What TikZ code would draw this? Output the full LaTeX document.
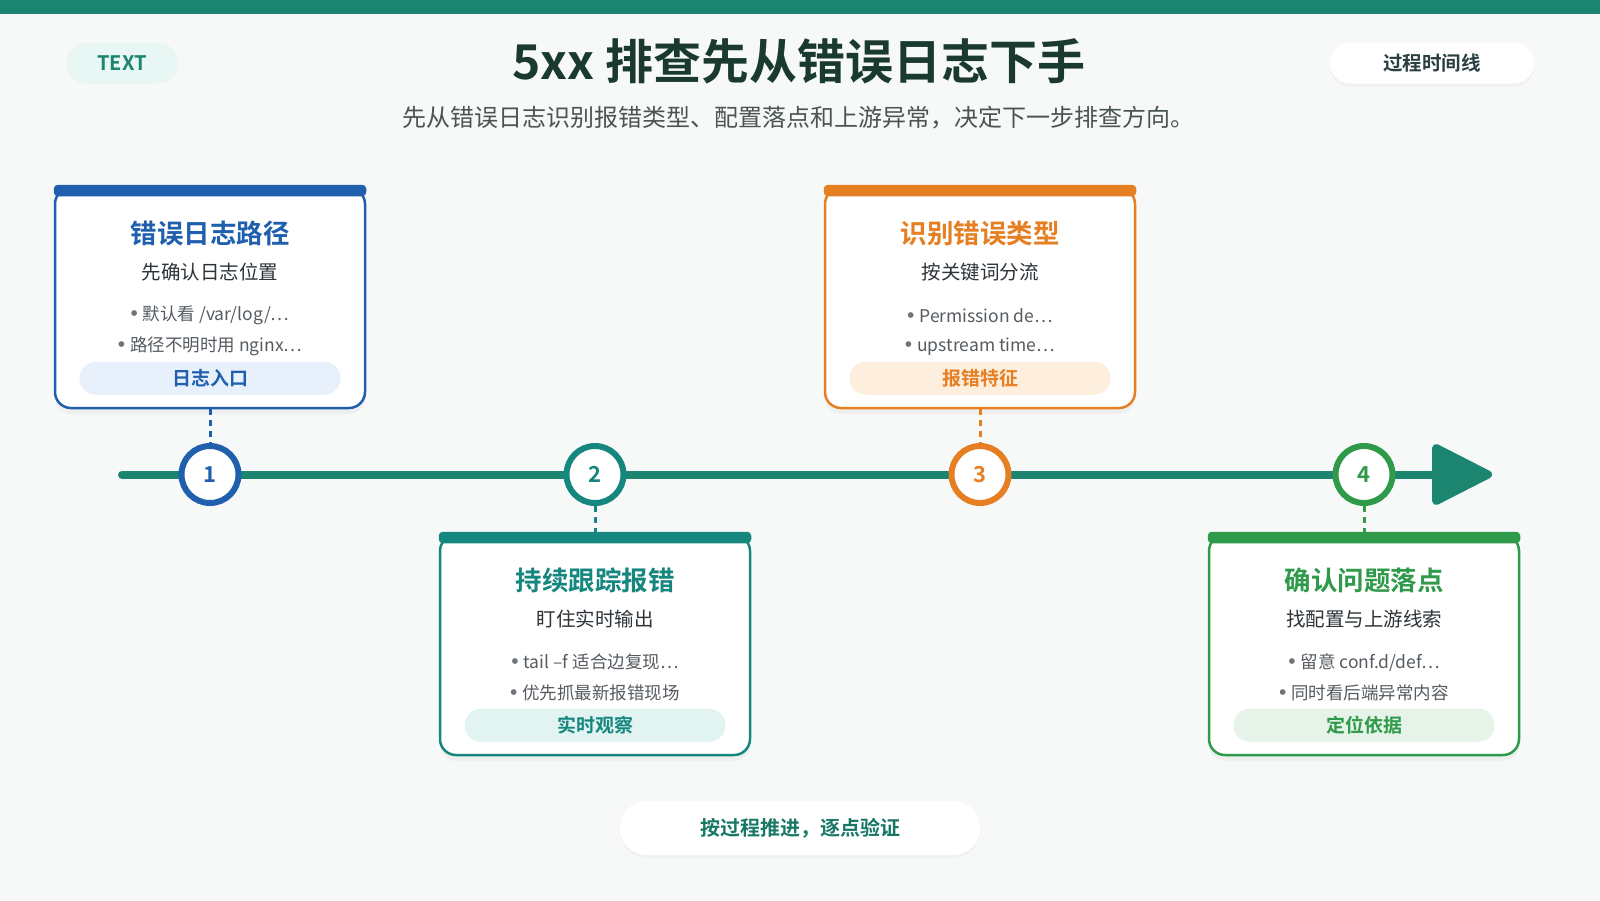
\documentclass[tikz,border=0pt]{standalone}
\usepackage{fontspec}
\setmainfont{Noto Sans CJK SC}[BoldFont={Noto Sans CJK SC Bold}]
\newfontfamily\bulfont{Liberation Sans}
\usetikzlibrary{arrows.meta,shadows}
\newcommand\fsz[1]{\fontsize{#1pt}{#1pt}\selectfont}
\newcommand\bul{{\bulfont\fsz{21}\color{bullettext!85!white}•}\hspace{5pt}}
\definecolor{bgc}{HTML}{F6F9F8}
\definecolor{topc}{HTML}{1B8570}
\definecolor{titlec}{HTML}{1B3A2E}
\definecolor{subc}{HTML}{4A5550}
\definecolor{cblue}{HTML}{1F5FAE}
\definecolor{pblue}{HTML}{E7F0FB}
\definecolor{cteal}{HTML}{16877F}
\definecolor{pteal}{HTML}{E2F4F1}
\definecolor{corange}{HTML}{E67E22}
\definecolor{porange}{HTML}{FDEEDD}
\definecolor{cgreen}{HTML}{2F9A4A}
\definecolor{pgreen}{HTML}{E5F3E8}
\definecolor{darktext}{HTML}{2D3338}
\definecolor{bullettext}{HTML}{555B60}
\tikzset{
  card/.style={rectangle, rounded corners=16pt, minimum width=310pt, minimum height=220pt,
    fill=white, draw=#1, line width=2.5pt, inner sep=0pt,
    drop shadow={opacity=0.07, shadow xshift=0pt, shadow yshift=-6pt}},
  ringnode/.style={circle, minimum size=57pt, line width=6pt, fill=white, draw=#1,
    text=#1, inner sep=0pt, font=\fsz{22}\bfseries},
  cardtitle/.style={inner sep=0pt, text=#1, font=\fsz{26.5}\bfseries},
  cardsub/.style={inner sep=0pt, text=darktext, font=\fsz{19.5}},
  bullet/.style={inner sep=0pt, text=bullettext, font=\fsz{17.5}},
  tagpill/.style={rectangle, rounded corners=16.5pt, minimum width=261pt, minimum height=33pt,
    inner sep=0pt, fill=#1},
  tagtext/.style={text=#1, font=\fsz{19}\bfseries},
  dashc/.style={draw=#1, line width=3pt, dash pattern=on 6pt off 5pt},
  softpill/.style={rectangle, rounded corners=20pt, fill=white, inner sep=0pt,
    drop shadow={opacity=0.05, shadow xshift=0pt, shadow yshift=-3pt}}
}
\begin{document}
\begin{tikzpicture}[x=1pt,y=-1pt]
\useasboundingbox (0,0) rectangle (1600,900);
\fill[bgc] (0,0) rectangle (1600,900);
\fill[topc] (0,0) rectangle (1600,14);

% header
\node[rectangle, rounded corners=20.5pt, minimum width=112pt, minimum height=41pt, fill=pteal!80!white,
  text=topc, font=\fsz{20}\bfseries, inner sep=0pt] (tag) at (122,63) {TEXT};
\node[text=titlec, font=\fsz{48}\bfseries, inner sep=0pt] (title) at (799,61) {5xx 排查先从错误日志下手};
\node[text=subc, font=\fsz{24}, inner sep=0pt] (subtitle) at (798,117.5) {先从错误日志识别报错类型、配置落点和上游异常，决定下一步排查方向。};
\node[softpill, minimum width=204pt, minimum height=41pt, text=darktext!85!topc, font=\fsz{19.5}\bfseries] (kind) at (1432,63) {过程时间线};

% timeline
\coordinate (tlA) at (122,474.5);
\coordinate (tlB) at (1492,474.5);
\draw[topc, line width=8pt, line cap=round, -{Triangle[length=65pt,width=64pt,round=false]}] (tlA) -- (tlB);

% cards
\node[card=cblue] (card1) at (210,298) {};
\node[card=cteal] (card2) at (595,645) {};
\node[card=corange] (card3) at (980,298) {};
\node[card=cgreen] (card4) at (1364,645) {};

\foreach \c/\col in {card1/cblue, card2/cteal, card3/corange, card4/cgreen}{
  \fill[\col, rounded corners=4pt] ([yshift=2pt]\c.north west) rectangle ([yshift=-9.5pt]\c.north east);
}

% card 1
\node[cardtitle=cblue] (t1) at ([yshift=-46.5pt]card1.north) {错误日志路径};
\node[cardsub] (s1) at ([yshift=-85.5pt]card1.north) {先确认日志位置};
\node[bullet] (b1a) at ([yshift=-128.5pt]card1.north) {\bul 默认看 /var/log/…};
\node[bullet] (b1b) at ([yshift=-159.5pt]card1.north) {\bul 路径不明时用 nginx…};
\node[tagpill=pblue] (p1) at ([yshift=-191.5pt]card1.north) {};
\node[tagtext=cblue] (p1t) at (p1) {日志入口};

% card 2
\node[cardtitle=cteal] (t2) at ([yshift=-46.5pt]card2.north) {持续跟踪报错};
\node[cardsub] (s2) at ([yshift=-85.5pt]card2.north) {盯住实时输出};
\node[bullet] (b2a) at ([yshift=-128.5pt]card2.north) {\bul tail –f 适合边复现…};
\node[bullet] (b2b) at ([yshift=-159.5pt]card2.north) {\bul 优先抓最新报错现场};
\node[tagpill=pteal] (p2) at ([yshift=-191.5pt]card2.north) {};
\node[tagtext=cteal] (p2t) at (p2) {实时观察};

% card 3
\node[cardtitle=corange] (t3) at ([yshift=-46.5pt]card3.north) {识别错误类型};
\node[cardsub] (s3) at ([yshift=-85.5pt]card3.north) {按关键词分流};
\node[bullet] (b3a) at ([yshift=-128.5pt]card3.north) {\bul Permission de…};
\node[bullet] (b3b) at ([yshift=-159.5pt]card3.north) {\bul upstream time…};
\node[tagpill=porange] (p3) at ([yshift=-191.5pt]card3.north) {};
\node[tagtext=corange] (p3t) at (p3) {报错特征};

% card 4
\node[cardtitle=cgreen] (t4) at ([yshift=-46.5pt]card4.north) {确认问题落点};
\node[cardsub] (s4) at ([yshift=-85.5pt]card4.north) {找配置与上游线索};
\node[bullet] (b4a) at ([yshift=-128.5pt]card4.north) {\bul 留意 conf.d/def…};
\node[bullet] (b4b) at ([yshift=-159.5pt]card4.north) {\bul 同时看后端异常内容};
\node[tagpill=pgreen] (p4) at ([yshift=-191.5pt]card4.north) {};
\node[tagtext=cgreen] (p4t) at (p4) {定位依据};

% markers
\node[ringnode=cblue] (c1) at (210,474.5) {1};
\node[ringnode=cteal] (c2) at (595,474.5) {2};
\node[ringnode=corange] (c3) at (980,474.5) {3};
\node[ringnode=cgreen] (c4) at (1364,474.5) {4};

% dashed links
\draw[dashc=cblue] (card1.south) -- (c1.north);
\draw[dashc=cteal] (c2.south) -- (card2.north);
\draw[dashc=corange] (card3.south) -- (c3.north);
\draw[dashc=cgreen] (c4.south) -- (card4.north);

% footer
\node[softpill, rounded corners=27pt, minimum width=361pt, minimum height=54pt,
  text=topc!90!black, font=\fsz{20}\bfseries] (foot) at (800,828) {按过程推进，逐点验证};
\end{tikzpicture}
\end{document}
